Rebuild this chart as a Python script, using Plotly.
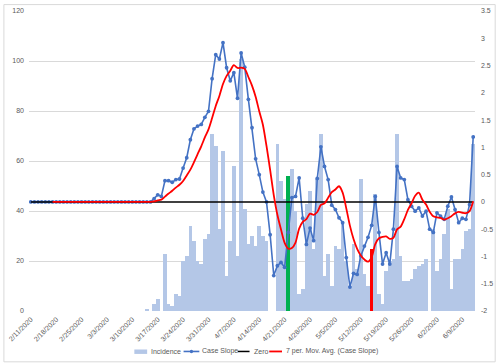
import pandas as pd
import plotly.graph_objects as go

# ---------------- data ----------------
start_date = "2020-02-11"
n_days = 123
dates = pd.date_range(start_date, periods=n_days, freq="D")

incidence = [0] * 32 + [
    1, 0, 3, 5, 0, 23, 3, 2, 7, 6,          # 32-41
    20, 22, 34, 28, 20, 19, 29, 31, 71, 66,  # 42-51
    33, 64, 14, 28, 58, 22, 101, 41, 27, 30,  # 52-61
    26, 34, 30, 28, 0, 0, 67, 52, 45, 54,    # 62-71
    57, 40, 7, 9, 43, 48, 25, 53, 71, 14,    # 72-81
    23, 10, 26, 25, 35, 20, 10, 27, 17, 53,  # 82-91
    15, 10, 25, 47, 7, 3, 16, 20, 21, 71,    # 92-101
    22, 12, 12, 13, 17, 18, 19, 21, 0, 33,   # 102-111
    16, 21, 31, 41, 9, 21, 21, 25, 32, 33,   # 112-121
    67,                                      # 122
]

case_slope = [0.0] * 34 + [
    0.06, 0.13, 0.10, 0.39, 0.39, 0.36, 0.41, 0.42,           # 34-41
    0.62, 0.81, 1.14, 1.34, 1.39, 1.42, 1.55, 1.66, 2.26, 2.70,  # 42-51
    2.62, 2.92, 2.46, 2.22, 2.37, 1.90, 2.73, 2.47, 1.88, 1.36,  # 52-61
    0.79, 0.50, 0.18, 0.00, -0.60, -1.35, -1.17, -1.11, -1.20, -0.56,  # 62-71
    0.08, 0.10, 0.44, -0.30, -0.78, -0.48, -0.71, 0.43, 1.01, 0.65,   # 72-81
    0.41, -0.06, -0.14, -0.29, -0.38, -1.02, -1.56, -1.31, -1.33, -0.99,  # 82-91
    -0.81, -0.65, -0.43, 0.10, -0.56, -1.14, -0.93, -1.14, -0.50, 0.65,  # 92-101
    0.44, 0.41, 0.04, -0.08, -0.17, -0.11, -0.26, -0.17, -0.50, -0.56,  # 102-111
    -0.20, -0.26, -0.32, -0.08, 0.09, -0.14, -0.38, -0.30, -0.32, -0.05,  # 112-121
    1.19,                                                          # 122
]

zero_line = [0.0] * n_days
ma_window = 7
moving_avg = pd.Series(case_slope).rolling(ma_window).mean()

highlight_colors = {"2020-04-22": "#00B050", "2020-05-15": "#FF0000"}
bar_base_color = "#B4C7E7"
bar_colors = [highlight_colors.get(d.strftime("%Y-%m-%d"), bar_base_color) for d in dates]

tick_dates = dates[::7]
tick_labels = [f"{d.month}/{d.day}/{d.year}" for d in tick_dates]

left_ticks = [0, 20, 40, 60, 80, 100, 120]
right_ticks = [-2, -1.5, -1, -0.5, 0, 0.5, 1, 1.5, 2, 2.5, 3, 3.5]
right_labels = ["-2", "-1.5", "-1", "-0.5", "0", "0.5", "1", "1.5", "2", "2.5", "3", "3.5"]

legend_names = ["Incidence", "Case Slope", "Zero", "7 per. Mov. Avg. (Case Slope)"]

# ---------------- figure ----------------
W, H = 500, 363
L, R, T, B = 26, 21, 7, 52
PW, PH = W - L - R, H - T - B
TXT = "#595959"
FONT = "Liberation Sans"

def px(x):
    return (x - L) / PW

def py(y):
    return (H - B - y) / PH

fig = go.Figure()
fig.add_trace(go.Bar(x=dates, y=incidence, marker=dict(color=bar_colors, line=dict(width=0)),
                     name=legend_names[0], yaxis="y"))
fig.add_trace(go.Scatter(x=dates, y=case_slope, mode="lines+markers", name=legend_names[1],
                         line=dict(color="#4472C4", width=1.6),
                         marker=dict(color="#4472C4", size=3.8), yaxis="y2"))
fig.add_trace(go.Scatter(x=dates, y=zero_line, mode="lines", name=legend_names[2],
                         line=dict(color="#000000", width=1.5), yaxis="y2"))
fig.add_trace(go.Scatter(x=dates, y=moving_avg, mode="lines", name=legend_names[3],
                         line=dict(color="#FF0000", width=1.8, shape="spline", smoothing=0.8),
                         yaxis="y2"))

x_lo = dates[0] - pd.Timedelta(hours=12)
x_hi = dates[-1] + pd.Timedelta(hours=12)

fig.update_layout(
    width=W, height=H, margin=dict(l=L, r=R, t=T, b=B),
    paper_bgcolor="white", plot_bgcolor="white",
    bargap=0, showlegend=False,
    font=dict(family=FONT, size=7, color=TXT),
    xaxis=dict(type="date", range=[x_lo, x_hi], tickvals=tick_dates, ticktext=tick_labels,
               tickangle=-45, showgrid=False, zeroline=False, showline=False, ticks="",
               tickfont=dict(size=7, color=TXT), ticklabelstandoff=2),
    yaxis=dict(range=[0, 120], tickvals=left_ticks, showgrid=True, gridcolor="#D9D9D9",
               gridwidth=1, zeroline=False, showline=False, ticks="",
               tickfont=dict(size=7, color=TXT), ticklabelstandoff=4),
    yaxis2=dict(range=[-2, 3.5], overlaying="y", side="right", tickvals=right_ticks,
                ticktext=right_labels, showgrid=False, zeroline=False, showline=False,
                ticks="", tickfont=dict(size=7, color=TXT), ticklabelstandoff=5),
)

shapes = [
    dict(type="rect", xref="paper", yref="paper", x0=px(0.5), x1=px(W - 0.5),
         y0=py(0.5), y1=py(H - 0.5), line=dict(color="#D9D9D9", width=1), layer="below"),
    # legend swatches
    dict(type="rect", xref="paper", yref="paper", x0=px(133), x1=px(146), y0=py(350), y1=py(354.5),
         fillcolor=bar_base_color, line=dict(width=0)),
    dict(type="line", xref="paper", yref="paper", x0=px(183), x1=px(199), y0=py(352), y1=py(352),
         line=dict(color="#4472C4", width=1.6)),
    dict(type="circle", xref="paper", yref="paper", x0=px(189.3), x1=px(192.7), y0=py(350.3), y1=py(353.7),
         fillcolor="#4472C4", line=dict(width=0)),
    dict(type="line", xref="paper", yref="paper", x0=px(238), x1=px(250), y0=py(352), y1=py(352),
         line=dict(color="#000000", width=1.5)),
    dict(type="line", xref="paper", yref="paper", x0=px(270), x1=px(283), y0=py(352), y1=py(352),
         line=dict(color="#FF0000", width=1.8)),
]
fig.update_layout(shapes=shapes)

legend_x = [148, 200, 252, 285]
for name, xx in zip(legend_names, legend_x):
    fig.add_annotation(text=name, xref="paper", yref="paper", x=px(xx), y=py(352),
                       xanchor="left", yanchor="middle", showarrow=False,
                       font=dict(size=7, color=TXT, family=FONT))

fig.write_html("out.html", config={"displayModeBar": False},
               post_script="document.body.style.margin='0';document.body.style.overflow='hidden';")
